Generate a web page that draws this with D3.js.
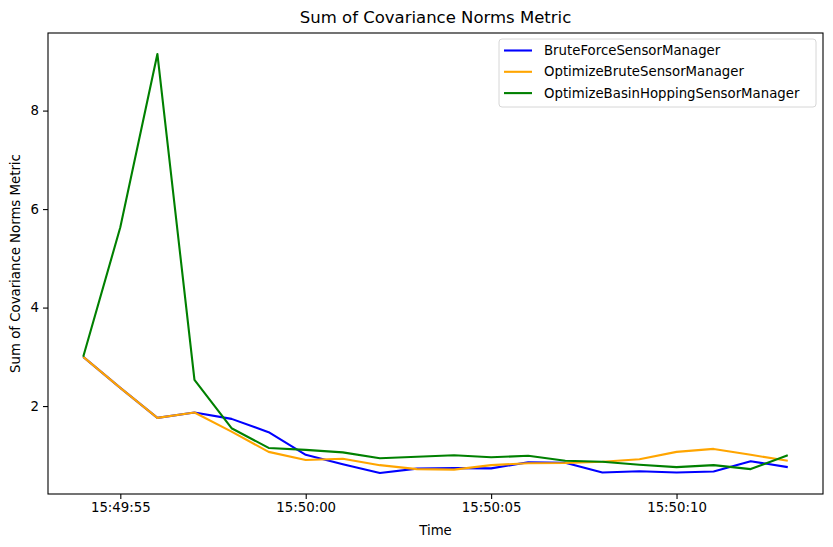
<!DOCTYPE html>
<html>
<head>
<meta charset="utf-8">
<script src="https://cdn.jsdelivr.net/npm/d3@7"></script>
<style>
  body { margin: 0; background: #fff; }
  svg { font-family: "DejaVu Sans", sans-serif; }
</style>
</head>
<body>
<div id="chart"></div>
<script>
// Timestamps (one per second) and the three series
var TIMES = ["15:49:54","15:49:55","15:49:56","15:49:57","15:49:58","15:49:59","15:50:00",
  "15:50:01","15:50:02","15:50:03","15:50:04","15:50:05","15:50:06","15:50:07",
  "15:50:08","15:50:09","15:50:10","15:50:11","15:50:12","15:50:13"];
var BRUTE = [3.0, 2.37, 1.76, 1.87, 1.74, 1.47, 1.01, 0.82, 0.64, 0.73, 0.74, 0.735, 0.86, 0.85,
  0.65, 0.675, 0.65, 0.67, 0.88, 0.76];
var OPT_BRUTE = [3.0, 2.37, 1.76, 1.87, 1.48, 1.07, 0.905, 0.93, 0.80, 0.72, 0.71, 0.80, 0.84, 0.845,
  0.87, 0.92, 1.07, 1.13, 1.01, 0.89];
var OPT_BASIN = [3.0, 5.63, 9.15, 2.53, 1.55, 1.15, 1.11, 1.06, 0.94, 0.97, 1.00, 0.96, 0.99, 0.89,
  0.87, 0.81, 0.76, 0.80, 0.72, 1.00];
var SERIES_NAMES = ["BruteForceSensorManager", "OptimizeBruteSensorManager", "OptimizeBasinHoppingSensorManager"];
var SERIES_COLORS = ["blue", "orange", "green"];
var Y_TICKS = [2, 4, 6, 8];

var W = 833, H = 547;
var MARGIN = {top: 33, right: 10, bottom: 53, left: 48};
var innerW = W - MARGIN.left - MARGIN.right,
    innerH = H - MARGIN.top - MARGIN.bottom;

var parseT = function(s) {
  var p = s.split(":").map(Number);
  return new Date(2024, 0, 1, p[0], p[1], p[2]);
};
var dates = TIMES.map(parseT);
var allSeries = [BRUTE, OPT_BRUTE, OPT_BASIN];

var svg = d3.select("#chart").append("svg")
  .attr("width", W).attr("height", H);

var g = svg.append("g")
  .attr("transform", "translate(" + MARGIN.left + "," + MARGIN.top + ")");

// matplotlib-style 5% margins
var t0 = +dates[0], t1 = +dates[dates.length - 1], tPad = (t1 - t0) * 0.05;
var x = d3.scaleTime()
  .domain([new Date(t0 - tPad), new Date(t1 + tPad)])
  .range([0, innerW]);

var allVals = d3.merge(allSeries);
var yMin = d3.min(allVals), yMax = d3.max(allVals), yPad = (yMax - yMin) * 0.05;
var y = d3.scaleLinear()
  .domain([yMin - yPad, yMax + yPad])
  .range([innerH, 0]);

// Axes
var xAxis = g.append("g")
  .attr("transform", "translate(0," + innerH + ")")
  .call(d3.axisBottom(x).ticks(d3.timeSecond.every(5)).tickFormat(d3.timeFormat("%H:%M:%S"))
    .tickSizeOuter(0).tickSize(5).tickPadding(4));

var yAxis = g.append("g")
  .call(d3.axisLeft(y).tickValues(Y_TICKS).tickFormat(d3.format("d"))
    .tickSizeOuter(0).tickSize(5).tickPadding(4));

[xAxis, yAxis].forEach(function(a) {
  a.select(".domain").remove();
  a.selectAll("line").attr("stroke", "#000").attr("stroke-width", 1.1);
  a.selectAll("text").attr("fill", "#000").style("font-size", "13.3px")
    .style("font-family", "'DejaVu Sans', sans-serif");
});

// Lines
var line = d3.line()
  .x(function(d, i) { return x(dates[i]); })
  .y(function(d) { return y(d); });

allSeries.forEach(function(s, i) {
  g.append("path")
    .datum(s)
    .attr("fill", "none")
    .attr("stroke", SERIES_COLORS[i])
    .attr("stroke-width", 2.1)
    .attr("stroke-linejoin", "round")
    .attr("d", line);
});

// Frame
g.append("rect")
  .attr("width", innerW).attr("height", innerH)
  .attr("fill", "none").attr("stroke", "#000").attr("stroke-width", 1.1);

// Title and labels
svg.append("text")
  .attr("x", MARGIN.left + innerW / 2).attr("y", 23)
  .attr("text-anchor", "middle")
  .style("font-size", "16.5px")
  .text("Sum of Covariance Norms Metric");

svg.append("text")
  .attr("x", MARGIN.left + innerW / 2).attr("y", 535)
  .attr("text-anchor", "middle")
  .style("font-size", "13.3px")
  .text("Time");

svg.append("text")
  .attr("transform", "translate(20," + (MARGIN.top + innerH / 2) + ") rotate(-90)")
  .attr("text-anchor", "middle")
  .style("font-size", "13.3px")
  .text("Sum of Covariance Norms Metric");

// Legend
var legend = svg.append("g").attr("transform", "translate(499,39)");
legend.append("rect")
  .attr("width", 317).attr("height", 68).attr("rx", 3)
  .attr("fill", "#fff").attr("fill-opacity", 0.8)
  .attr("stroke", "#d6d6d6").attr("stroke-width", 1);

SERIES_NAMES.forEach(function(name, i) {
  var cy = 11.5 + i * 21.3;
  legend.append("line")
    .attr("x1", 5).attr("x2", 33).attr("y1", cy).attr("y2", cy)
    .attr("stroke", SERIES_COLORS[i]).attr("stroke-width", 2.1);
  legend.append("text")
    .attr("x", 45).attr("y", cy).attr("dy", "0.35em")
    .style("font-size", "13.3px")
    .text(name);
});
</script>
</body>
</html>
